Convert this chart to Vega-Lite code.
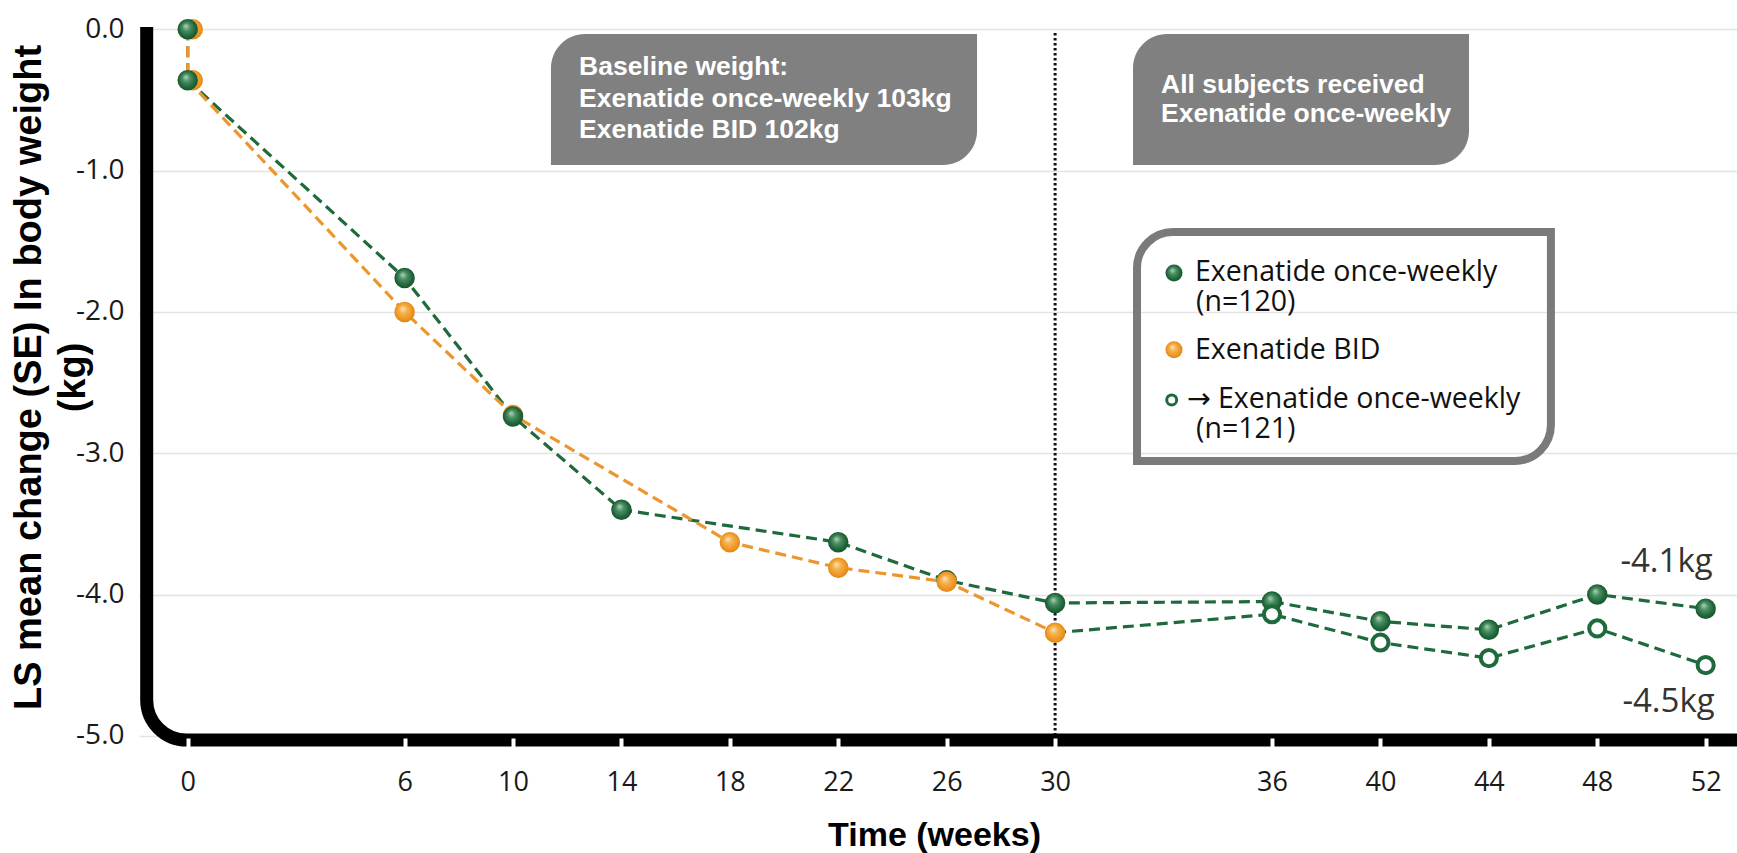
{
  "$schema": "https://vega.github.io/schema/vega-lite/v6.json",
  "autosize": "none",
  "width": 1598,
  "height": 721,
  "padding": {"left": 139, "top": 27, "right": 0, "bottom": 105},
  "background": "white",
  "config": {"view": {"stroke": null}},
  "datasets": {
    "weights": [
      {"series": "Exenatide BID", "week": 0, "change": 0.0},
      {"series": "Exenatide BID", "week": 0, "change": -0.36},
      {"series": "Exenatide BID", "week": 6, "change": -2.0},
      {"series": "Exenatide BID", "week": 10, "change": -2.73},
      {"series": "Exenatide BID", "week": 18, "change": -3.63},
      {"series": "Exenatide BID", "week": 22, "change": -3.81},
      {"series": "Exenatide BID", "week": 30, "change": -4.27},
      {"series": "Exenatide once-weekly", "week": 0, "change": 0.0},
      {"series": "Exenatide once-weekly", "week": 0, "change": -0.36},
      {"series": "Exenatide once-weekly", "week": 6, "change": -1.76},
      {"series": "Exenatide once-weekly", "week": 10, "change": -2.74},
      {"series": "Exenatide once-weekly", "week": 14, "change": -3.40},
      {"series": "Exenatide once-weekly", "week": 22, "change": -3.63},
      {"series": "Exenatide once-weekly", "week": 26, "change": -3.90},
      {"series": "Exenatide once-weekly", "week": 30, "change": -4.06},
      {"series": "Exenatide once-weekly", "week": 36, "change": -4.05},
      {"series": "Exenatide once-weekly", "week": 40, "change": -4.19},
      {"series": "Exenatide once-weekly", "week": 44, "change": -4.25},
      {"series": "Exenatide once-weekly", "week": 48, "change": -4.00},
      {"series": "Exenatide once-weekly", "week": 52, "change": -4.1},
      {"series": "Exenatide BID", "week": 26, "change": -3.91},
      {"series": "Exenatide BID → Exenatide once-weekly", "week": 30, "change": -4.27},
      {"series": "Exenatide BID → Exenatide once-weekly", "week": 36, "change": -4.14},
      {"series": "Exenatide BID → Exenatide once-weekly", "week": 40, "change": -4.34},
      {"series": "Exenatide BID → Exenatide once-weekly", "week": 44, "change": -4.45},
      {"series": "Exenatide BID → Exenatide once-weekly", "week": 48, "change": -4.24},
      {"series": "Exenatide BID → Exenatide once-weekly", "week": 52, "change": -4.5}
    ]
  },
  "data": {"name": "weights"},
  "layer": [
    {
      "transform": [{"filter": "datum.series !== 'Exenatide BID'"}],
      "mark": {"type": "line", "strokeWidth": 3.2, "strokeDash": [11, 6]},
      "encoding": {
        "x": {
          "field": "week",
          "type": "quantitative",
          "scale": {"type": "linear", "domain": [-1.3475, 6, 30, 36, 53.156], "range": [0, 265.6, 916.1, 1133, 1598], "nice": false, "zero": false},
          "axis": {
            "values": [0, 6, 10, 14, 18, 22, 26, 30, 36, 40, 44, 48, 52],
            "domain": false,
            "grid": false,
            "zindex": 1,
            "offset": -10,
            "tickColor": "white",
            "tickSize": 9.5,
            "tickWidth": 4,
            "labelFont": "Open Sans",
            "labelFontSize": 27,
            "labelColor": "#1a1a1a",
            "labelPadding": 22,
            "labelFlush": false,
            "labelOverlap": false,
            "title": "Time (weeks)",
            "titleFont": "Liberation Sans",
            "titleFontWeight": "bold",
            "titleFontSize": 34,
            "titleColor": "#000000",
            "titleX": 795,
            "titleY": 107,
            "titleAlign": "center",
            "titleBaseline": "alphabetic"
          }
        },
        "y": {
          "field": "change",
          "type": "quantitative",
          "scale": {"domain": [-5.0863, 0.0163], "nice": false, "zero": false},
          "axis": {
            "values": [0, -1, -2, -3, -4, -5],
            "format": ".1f",
            "labelExpr": "replace(datum.label, '\u2212', '-')",
            "domain": false,
            "ticks": false,
            "grid": true,
            "gridColor": "#e3e3e3",
            "gridWidth": 1.5,
            "zindex": 0,
            "labelFont": "Open Sans",
            "labelFontSize": 28,
            "labelColor": "#1a1a1a",
            "labelPadding": 15,
            "title": ["LS mean change (SE) In body weight", "(kg)"],
            "titleFont": "Liberation Sans",
            "titleFontWeight": "bold",
            "titleFontSize": 38,
            "titleColor": "#000000",
            "titleAngle": -90,
            "titleX": -99,
            "titleY": 350,
            "titleAlign": "center",
            "titleBaseline": "alphabetic",
            "titleLineHeight": 44
          }
        },
        "color": {
          "field": "series",
          "type": "nominal",
          "scale": {"domain": ["Exenatide once-weekly", "Exenatide BID", "Exenatide BID → Exenatide once-weekly"], "range": ["#1e6a3c", "#eb962f", "#1e6a3c"]},
          "legend": null
        },
        "order": [{"field": "week", "type": "quantitative"}, {"field": "change", "type": "quantitative", "sort": "descending"}]
      }
    },
    {
      "transform": [{"filter": "datum.series === 'Exenatide BID'"}],
      "mark": {"type": "line", "strokeWidth": 3.2, "strokeDash": [11, 6]},
      "encoding": {
        "x": {"field": "week", "type": "quantitative"},
        "y": {"field": "change", "type": "quantitative"},
        "color": {"field": "series", "type": "nominal", "legend": null},
        "order": [{"field": "week", "type": "quantitative"}, {"field": "change", "type": "quantitative", "sort": "descending"}]
      }
    },
    {
      "data": {"values": [{}]},
      "mark": {"type": "rule", "color": "#111111", "strokeWidth": 3, "strokeDash": [2.5, 2.5]},
      "encoding": {
        "x": {"datum": 30, "type": "quantitative"},
        "y": {"datum": -0.027, "type": "quantitative"},
        "y2": {"datum": -5.03}
      }
    },
    {
      "data": {"values": [{}]},
      "mark": {"type": "rect", "color": "#808080", "cornerRadiusTopLeft": 34, "cornerRadiusBottomRight": 34},
      "encoding": {
        "x": {"datum": 11.40, "type": "quantitative"},
        "x2": {"datum": 27.12},
        "y": {"datum": -0.0333, "type": "quantitative"},
        "y2": {"datum": -0.9604}
      }
    },
    {
      "data": {"values": [{}]},
      "mark": {"type": "rect", "color": "#808080", "cornerRadiusTopLeft": 34, "cornerRadiusBottomRight": 34},
      "encoding": {
        "x": {"datum": 32.155, "type": "quantitative"},
        "x2": {"datum": 43.268},
        "y": {"datum": -0.0333, "type": "quantitative"},
        "y2": {"datum": -0.9604}
      }
    },
    {
      "data": {"values": [{}]},
      "mark": {"type": "text", "text": ["Baseline weight:", "Exenatide once-weekly 103kg", "Exenatide BID 102kg"], "align": "left", "baseline": "alphabetic", "font": "Liberation Sans", "fontWeight": "bold", "fontSize": 26.5, "lineHeight": 31.7, "color": "white"},
      "encoding": {
        "x": {"datum": 12.435, "type": "quantitative"},
        "y": {"datum": -0.3234, "type": "quantitative"}
      }
    },
    {
      "data": {"values": [{}]},
      "mark": {"type": "text", "text": ["All subjects received", "Exenatide once-weekly"], "align": "left", "baseline": "alphabetic", "font": "Liberation Sans", "fontWeight": "bold", "fontSize": 26.5, "lineHeight": 29, "color": "white"},
      "encoding": {
        "x": {"datum": 32.93, "type": "quantitative"},
        "y": {"datum": -0.4529, "type": "quantitative"}
      }
    },
    {
      "data": {"values": [{}]},
      "mark": {"type": "rect", "fillOpacity": 0, "stroke": "#7a7a7a", "strokeWidth": 8, "cornerRadiusTopLeft": 36, "cornerRadiusBottomRight": 36},
      "encoding": {
        "x": {"datum": 32.266, "type": "quantitative"},
        "x2": {"datum": 46.29},
        "y": {"datum": -1.4345, "type": "quantitative"},
        "y2": {"datum": -3.0552}
      }
    },
    {
      "transform": [{"filter": "datum.series === 'Exenatide BID' && datum.week === 0"}],
      "mark": {"type": "point", "filled": true, "size": 420, "opacity": 1, "strokeWidth": 0, "xOffset": 5,
        "fill": {"gradient": "radial", "x1": 0.4, "y1": 0.33, "r1": 0, "x2": 0.5, "y2": 0.5, "r2": 0.55, "stops": [{"offset": 0, "color": "#fde6bd"}, {"offset": 0.35, "color": "#f6b14f"}, {"offset": 0.75, "color": "#ec951f"}, {"offset": 1, "color": "#d9800f"}]}},
      "encoding": {
        "x": {"field": "week", "type": "quantitative"},
        "y": {"field": "change", "type": "quantitative"}
      }
    },
    {
      "transform": [{"filter": "datum.series !== 'Exenatide BID → Exenatide once-weekly' && !(datum.series === 'Exenatide BID' && datum.week === 0)"}],
      "mark": {"type": "point", "filled": true, "size": 420, "opacity": 1, "strokeWidth": 0},
      "encoding": {
        "x": {"field": "week", "type": "quantitative"},
        "y": {"field": "change", "type": "quantitative"},
        "fill": {
          "condition": {
            "test": "datum.series === 'Exenatide BID'",
            "value": {"gradient": "radial", "x1": 0.4, "y1": 0.33, "r1": 0, "x2": 0.5, "y2": 0.5, "r2": 0.55, "stops": [{"offset": 0, "color": "#fde6bd"}, {"offset": 0.35, "color": "#f6b14f"}, {"offset": 0.75, "color": "#ec951f"}, {"offset": 1, "color": "#d9800f"}]}
          },
          "value": {"gradient": "radial", "x1": 0.4, "y1": 0.33, "r1": 0, "x2": 0.5, "y2": 0.5, "r2": 0.55, "stops": [{"offset": 0, "color": "#b5d3bc"}, {"offset": 0.35, "color": "#4a9063"}, {"offset": 0.75, "color": "#1f6439"}, {"offset": 1, "color": "#17502c"}]}
        }
      }
    },
    {
      "transform": [{"filter": "datum.series === 'Exenatide BID → Exenatide once-weekly' && datum.week > 30"}],
      "mark": {"type": "point", "shape": "circle", "filled": false, "fill": "white", "fillOpacity": 1, "stroke": "#1e6a3c", "strokeWidth": 4, "size": 260, "opacity": 1},
      "encoding": {
        "x": {"field": "week", "type": "quantitative"},
        "y": {"field": "change", "type": "quantitative"}
      }
    },
    {
      "transform": [
        {"filter": "datum.week === 52 && datum.series === 'Exenatide once-weekly'"},
        {"calculate": "'-' + format(-datum.change, '.1f') + 'kg'", "as": "label"}
      ],
      "mark": {"type": "text", "align": "right", "baseline": "alphabetic", "dx": 7, "dy": -37, "font": "Open Sans", "fontSize": 33, "color": "#333333"},
      "encoding": {
        "x": {"field": "week", "type": "quantitative"},
        "y": {"field": "change", "type": "quantitative"},
        "text": {"field": "label"}
      }
    },
    {
      "transform": [
        {"filter": "datum.week === 52 && datum.series === 'Exenatide BID → Exenatide once-weekly'"},
        {"calculate": "'-' + format(-datum.change, '.1f') + 'kg'", "as": "label"}
      ],
      "mark": {"type": "text", "align": "right", "baseline": "alphabetic", "dx": 9, "dy": 46.5, "font": "Open Sans", "fontSize": 33, "color": "#333333"},
      "encoding": {
        "x": {"field": "week", "type": "quantitative"},
        "y": {"field": "change", "type": "quantitative"},
        "text": {"field": "label"}
      }
    },
    {
      "data": {"values": [{}]},
      "mark": {"type": "point", "filled": true, "size": 290, "opacity": 1, "strokeWidth": 0, "fill": {"gradient": "radial", "x1": 0.4, "y1": 0.33, "r1": 0, "x2": 0.5, "y2": 0.5, "r2": 0.55, "stops": [{"offset": 0, "color": "#b5d3bc"}, {"offset": 0.35, "color": "#4a9063"}, {"offset": 0.75, "color": "#1f6439"}, {"offset": 1, "color": "#17502c"}]}},
      "encoding": {
        "x": {"datum": 33.289, "type": "quantitative"},
        "y": {"datum": -1.7247, "type": "quantitative"}
      }
    },
    {
      "data": {"values": [{}]},
      "mark": {"type": "point", "filled": true, "size": 290, "opacity": 1, "strokeWidth": 0, "fill": {"gradient": "radial", "x1": 0.4, "y1": 0.33, "r1": 0, "x2": 0.5, "y2": 0.5, "r2": 0.55, "stops": [{"offset": 0, "color": "#fde6bd"}, {"offset": 0.35, "color": "#f6b14f"}, {"offset": 0.75, "color": "#ec951f"}, {"offset": 1, "color": "#d9800f"}]}},
      "encoding": {
        "x": {"datum": 33.289, "type": "quantitative"},
        "y": {"datum": -2.2682, "type": "quantitative"}
      }
    },
    {
      "data": {"values": [{}]},
      "mark": {"type": "point", "shape": "circle", "filled": false, "fill": "white", "fillOpacity": 1, "stroke": "#1e6a3c", "strokeWidth": 3, "size": 100, "opacity": 1},
      "encoding": {
        "x": {"datum": 33.225, "type": "quantitative"},
        "y": {"datum": -2.6228, "type": "quantitative"}
      }
    },
    {
      "data": {"values": [{}]},
      "mark": {"type": "text", "text": "Exenatide once-weekly", "align": "left", "baseline": "alphabetic", "font": "Open Sans", "fontSize": 28.5, "color": "#111111"},
      "encoding": {
        "x": {"datum": 33.870, "type": "quantitative"},
        "y": {"datum": -1.7834, "type": "quantitative"}
      }
    },
    {
      "data": {"values": [{}]},
      "mark": {"type": "text", "text": "(n=120)", "align": "left", "baseline": "alphabetic", "font": "Open Sans", "fontSize": 28.5, "color": "#111111"},
      "encoding": {
        "x": {"datum": 33.898, "type": "quantitative"},
        "y": {"datum": -1.9957, "type": "quantitative"}
      }
    },
    {
      "data": {"values": [{}]},
      "mark": {"type": "text", "text": "Exenatide BID", "align": "left", "baseline": "alphabetic", "font": "Open Sans", "fontSize": 28.5, "color": "#111111"},
      "encoding": {
        "x": {"datum": 33.870, "type": "quantitative"},
        "y": {"datum": -2.3326, "type": "quantitative"}
      }
    },
    {
      "data": {"values": [{}]},
      "mark": {"type": "text", "text": "→ Exenatide once-weekly", "align": "left", "baseline": "alphabetic", "font": "Open Sans, DejaVu Sans", "fontSize": 28.5, "color": "#111111"},
      "encoding": {
        "x": {"datum": 33.64, "type": "quantitative"},
        "y": {"datum": -2.6794, "type": "quantitative"}
      }
    },
    {
      "data": {"values": [{}]},
      "mark": {"type": "text", "text": "(n=121)", "align": "left", "baseline": "alphabetic", "font": "Open Sans", "fontSize": 28.5, "color": "#111111"},
      "encoding": {
        "x": {"datum": 33.898, "type": "quantitative"},
        "y": {"datum": -2.8917, "type": "quantitative"}
      }
    },
    {
      "data": {"values": [{}]},
      "mark": {"type": "rect", "clip": true, "fillOpacity": 0, "stroke": "#000000", "strokeWidth": 13, "cornerRadiusBottomLeft": 40},
      "encoding": {
        "x": {"datum": -1.1345, "type": "quantitative"},
        "x2": {"datum": 70},
        "y": {"datum": 1.0, "type": "quantitative"},
        "y2": {"datum": -5.0297}
      }
    }
  ]
}
